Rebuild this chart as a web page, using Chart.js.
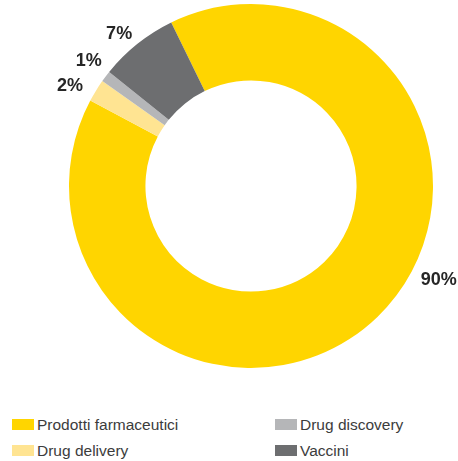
<!DOCTYPE html>
<html lang="it">
<head>
<meta charset="utf-8">
<title>Ripartizione per segmento</title>
<script src="https://cdn.jsdelivr.net/npm/chart.js@4/dist/chart.umd.min.js"></script>
<style>
  html, body { margin: 0; padding: 0; background: #fff; }
  body { width: 458px; height: 461px; position: relative; overflow: hidden; }
  #chart { position: absolute; left: 0; top: 0; }
  .legend { position: absolute; left: 0; top: 0; font-family: "Liberation Sans", Arial, sans-serif;
            font-size: 15.5px; color: #3c3c3c; }
  .item { position: absolute; white-space: nowrap; line-height: 16px; }
  .swatch { position: absolute; left: 0; top: 2px; width: 22px; height: 11px; }
  .item span.txt { position: absolute; left: 25px; top: 0; }
</style>
</head>
<body>
<canvas id="chart" width="458" height="400"></canvas>
<div class="legend" id="legend"></div>
<script>
// Segments, in drawing order (clockwise)
const categories = ['Prodotti farmaceutici', 'Drug delivery', 'Drug discovery', 'Vaccini'];
const shares = [90, 2, 1, 7];
const colors = ['#FFD500', '#FFE492', '#B5B6B8', '#6D6E70'];

// Percentage labels around the ring: angular nudge (deg) and distance beyond the outer edge (px)
const labelShift = [-19.4, -2.6, 0.7, -2.4];
const labelGap = [28, 25, 23, 19];

const valueLabels = {
  id: 'valueLabels',
  afterDatasetsDraw(chart) {
    const ctx = chart.ctx;
    const meta = chart.getDatasetMeta(0);
    const values = chart.data.datasets[0].data;
    ctx.save();
    ctx.font = 'bold 18px "Liberation Sans", Arial, sans-serif';
    ctx.fillStyle = '#262626';
    ctx.textAlign = 'center';
    ctx.textBaseline = 'middle';
    meta.data.forEach((arc, i) => {
      const p = arc.getProps(['x', 'y', 'startAngle', 'endAngle', 'outerRadius'], true);
      const a = (p.startAngle + p.endAngle) / 2 + labelShift[i] * Math.PI / 180;
      const r = p.outerRadius + labelGap[i];
      ctx.fillText(values[i] + '%', p.x + Math.cos(a) * r, p.y + Math.sin(a) * r);
    });
    ctx.restore();
  }
};

new Chart(document.getElementById('chart'), {
  type: 'doughnut',
  data: {
    labels: categories,
    datasets: [{
      data: shares,
      backgroundColor: colors,
      borderWidth: 0,
      hoverOffset: 0
    }]
  },
  options: {
    responsive: false,
    animation: false,
    rotation: -26,
    cutout: '58%',
    layout: { padding: { left: 69, right: 25, top: 4, bottom: 32 } },
    plugins: {
      legend: { display: false },
      tooltip: { enabled: false }
    }
  },
  plugins: [valueLabels]
});

// Legend laid out in two columns (column-major)
const legendPos = [[12, 417], [12, 443], [275, 417], [275, 443]];
const legendEl = document.getElementById('legend');
categories.forEach((name, i) => {
  const item = document.createElement('div');
  item.className = 'item';
  item.style.left = legendPos[i][0] + 'px';
  item.style.top = legendPos[i][1] + 'px';
  const sw = document.createElement('span');
  sw.className = 'swatch';
  sw.style.background = colors[i];
  const tx = document.createElement('span');
  tx.className = 'txt';
  tx.textContent = name;
  item.appendChild(sw);
  item.appendChild(tx);
  legendEl.appendChild(item);
});
</script>
</body>
</html>
